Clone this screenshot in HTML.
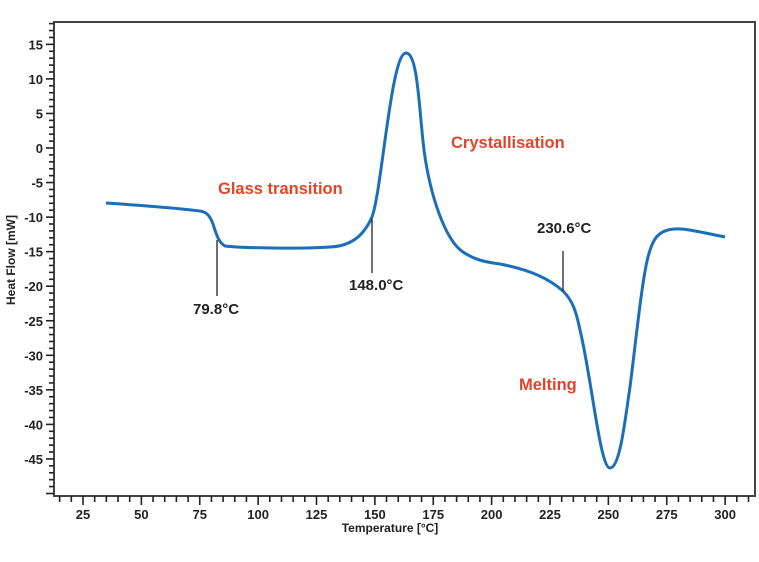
<!DOCTYPE html>
<html><head><meta charset="utf-8"><style>
body{margin:0;background:#fff}
svg text{font-family:"Liberation Sans",sans-serif;font-weight:bold}
</style></head><body>
<svg width="759" height="557" viewBox="0 0 759 557" xmlns="http://www.w3.org/2000/svg">
<rect x="54" y="22" width="701" height="474" fill="none" stroke="#444" stroke-width="2"/>
<g id="yt" stroke="#222" stroke-width="1.6"></g>
<g id="xt" stroke="#222" stroke-width="1.6"></g>
<g id="yl" font-size="13" fill="#222" text-anchor="end"></g>
<g id="xl" font-size="13" fill="#222" text-anchor="middle"></g>
<text x="390" y="532" font-size="12" text-anchor="middle" fill="#222">Temperature [°C]</text>
<text transform="translate(15,260) rotate(-90)" font-size="12" text-anchor="middle" fill="#222">Heat Flow [mW]</text>
<path d="M106,203 C150,206 185,209 200,211 C207,212 210,216 213,224 C216,233 218,242 225,246 C240,248 300,249 330,247 C352,246 364,235 372,217 C382,190 391,53 406,53 C418,53 419,110 424,150 C430,195 445,240 463,252 C475,260 485,262 500,264 C530,270 548,278 563,291 C572,300 576,310 580,330 C592,380 600,468 610,468 C620,468 625,420 630,387 C636,340 642,280 648,257 C652,242 656,233 668,230 C680,227 690,230 725,237" fill="none" stroke="#1a6fb8" stroke-width="3"/>
<g stroke="#222" stroke-width="1.3">
<line x1="217" y1="240" x2="217" y2="296"/>
<line x1="372" y1="219" x2="372" y2="273"/>
<line x1="563" y1="251" x2="563" y2="291"/>
</g>
<g font-size="15" fill="#222">
<text x="193" y="314">79.8°C</text>
<text x="349" y="290">148.0°C</text>
<text x="537" y="233">230.6°C</text>
</g>
<g font-size="16.5" fill="#e0452b">
<text x="218" y="194">Glass transition</text>
<text x="451" y="148">Crystallisation</text>
<text x="519" y="390">Melting</text>
</g>
</svg>
<script>
var ns="http://www.w3.org/2000/svg";
function el(p,t,a,txt){var e=document.createElementNS(ns,t);for(var k in a)e.setAttribute(k,a[k]);if(txt)e.textContent=txt;document.getElementById(p).appendChild(e);}
function Y(v){return 148-v*6.91;}
for(var v=-50;v<=18;v++){var y=Y(v);var maj=v%5==0;el("yt","line",{x1:maj?46:49,x2:54,y1:y,y2:y});if(maj&&v>=-45&&v<=15)el("yl","text",{x:43,y:y+5},String(v));}
function X(t){return 83+(t-25)*2.335;}
for(var t=15;t<=310;t+=5){var x=X(t);var maj=t%25==0;el("xt","line",{x1:x,x2:x,y1:496,y2:maj?505:502});if(maj&&t>=25&&t<=300)el("xl","text",{x:x,y:519},String(t));}
</script>
</body></html>
